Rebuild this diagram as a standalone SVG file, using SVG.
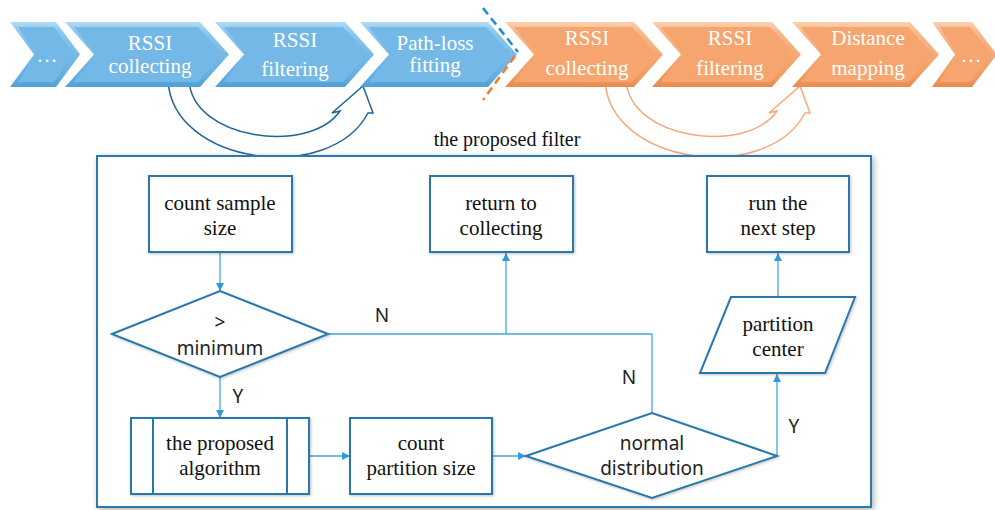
<svg xmlns="http://www.w3.org/2000/svg" width="995" height="510" viewBox="0 0 995 510">
<defs>
<style>
.ct{font-size:21px;fill:#ffffff;text-anchor:middle}
.nt{font-size:21px;fill:#111;text-anchor:middle}
.tt{font-size:20px;fill:#111;text-anchor:middle}
.st{font-size:19px;fill:#222;text-anchor:middle}
.node{fill:#fff;stroke:#2a78aa;stroke-width:2;filter:url(#sh)}
.con{fill:none;stroke:#45a5dc;stroke-width:1.3}
.bchev{fill:url(#bg);}
.bface{fill:#73b8e6}
.ochev{fill:url(#og);}
.oface{fill:#f6a56f}
</style>
<linearGradient id="bg" x1="0" y1="0" x2="0" y2="1">
<stop offset="0" stop-color="#b3dbf4"/><stop offset="0.15" stop-color="#8cc7ee"/><stop offset="0.85" stop-color="#62aee2"/><stop offset="1" stop-color="#4f9fd6"/>
</linearGradient>
<linearGradient id="og" x1="0" y1="0" x2="0" y2="1">
<stop offset="0" stop-color="#fcd0b0"/><stop offset="0.15" stop-color="#f9b88c"/><stop offset="0.85" stop-color="#f29a60"/><stop offset="1" stop-color="#e88a4e"/>
</linearGradient>
<filter id="sh" x="-10%" y="-10%" width="120%" height="120%">
<feGaussianBlur in="SourceAlpha" stdDeviation="1.5"/><feOffset dx="1" dy="1"/>
<feComponentTransfer><feFuncA type="linear" slope="0.25"/></feComponentTransfer>
<feMerge><feMergeNode/><feMergeNode in="SourceGraphic"/></feMerge>
</filter>
<filter id="bsh" x="-5%" y="-5%" width="110%" height="110%">
<feGaussianBlur in="SourceAlpha" stdDeviation="3"/><feOffset dx="2" dy="2"/>
<feComponentTransfer><feFuncA type="linear" slope="0.3"/></feComponentTransfer>
<feMerge><feMergeNode/><feMergeNode in="SourceGraphic"/></feMerge>
</filter>
<marker id="ah" viewBox="0 0 10 10" refX="10" refY="5" markerWidth="8" markerHeight="8" markerUnits="userSpaceOnUse" orient="auto">
<path d="M0,0 L10,5 L0,10 Z" fill="#2f9bdb"/>
</marker>
</defs>
<rect width="995" height="510" fill="#fff"/>

<g id="curved-arrows">
<path id="blue-curve" d="M 189 80 C 192 140, 310 155, 340 111 L 332 113 L 363 86 L 373 113 L 368 113 C 330 185, 172 165, 168 80" fill="#fff" stroke="#1f6494" stroke-width="1.5"/>
<path id="orange-curve" transform="translate(437,0)" d="M 189 80 C 192 140, 310 155, 340 111 L 332 113 L 363 86 L 373 113 L 368 113 C 330 185, 172 165, 168 80" fill="#fff" stroke="#f6a878" stroke-width="1.5"/>
</g>

<g id="chevrons" font-family="Liberation Serif, serif">
<g id="b1"><polygon class="bchev" points="10,22 56,22 80,54.5 56,87 10,87 34,54.5"/><polygon class="bface" points="18,27 54,27 74,54.5 54,82 18,82 36,54.5"/><text class="ct" x="47" y="62">…</text></g>
<g id="b2"><polygon class="bchev" points="65,22 200,22 229,54.5 200,87 65,87 94,54.5"/><polygon class="bface" points="74,27 198,27 223,54.5 198,82 74,82 96,54.5"/><text class="ct" x="150" y="50">RSSI</text><text class="ct" x="150" y="73">collecting</text></g>
<g id="b3"><polygon class="bchev" points="215,22 345,22 374,54.5 345,87 215,87 244,54.5"/><polygon class="bface" points="224,27 343,27 368,54.5 343,82 224,82 246,54.5"/><text class="ct" x="295" y="47">RSSI</text><text class="ct" x="295" y="76">filtering</text></g>
<g id="b4"><polygon class="bchev" points="360,22 488,22 517,54.5 488,87 360,87 389,54.5"/><polygon class="bface" points="369,27 486,27 511,54.5 486,82 369,82 391,54.5"/><text class="ct" x="435" y="50">Path-loss</text><text class="ct" x="435" y="72">fitting</text></g>
<g id="o1"><polygon class="ochev" points="505,22 634,22 663,54.5 634,87 505,87 534,54.5"/><polygon class="oface" points="514,27 632,27 657,54.5 632,82 514,82 536,54.5"/><text class="ct" x="587" y="45">RSSI</text><text class="ct" x="587" y="75">collecting</text></g>
<g id="o2"><polygon class="ochev" points="652,22 772,22 801,54.5 772,87 652,87 681,54.5"/><polygon class="oface" points="661,27 770,27 795,54.5 770,82 661,82 683,54.5"/><text class="ct" x="730" y="45">RSSI</text><text class="ct" x="730" y="75">filtering</text></g>
<g id="o3"><polygon class="ochev" points="792,22 910,22 939,54.5 910,87 792,87 821,54.5"/><polygon class="oface" points="801,27 908,27 933,54.5 908,82 801,82 823,54.5"/><text class="ct" x="868" y="45">Distance</text><text class="ct" x="868" y="75">mapping</text></g>
<g id="o4"><polygon class="ochev" points="932,22 972,22 997,54.5 972,87 932,87 955,54.5"/><polygon class="oface" points="940,27 970,27 992,54.5 970,82 940,82 957,54.5"/><text class="ct" x="971" y="62">…</text></g>
</g>

<g id="separators">
<line x1="483" y1="8" x2="518" y2="52" stroke="#1b8bd2" stroke-width="2.5" stroke-dasharray="8,5"/>
<line x1="515" y1="56" x2="483" y2="100" stroke="#f07a30" stroke-width="2.5" stroke-dasharray="8,5"/>
</g>

<text class="tt" x="507" y="146" font-family="Liberation Serif, serif">the proposed filter</text>

<g id="filter-box"><rect x="97" y="156" width="774" height="351" fill="#fff" stroke="#2a7ab0" stroke-width="2" filter="url(#bsh)"/></g>

<g id="connectors" font-family="Noto Sans, sans-serif">
<line class="con" x1="220" y1="252" x2="220" y2="291" marker-end="url(#ah)"/>
<path class="con" d="M 328 334 H 652 V 413"/>
<line class="con" x1="506" y1="334" x2="506" y2="253" marker-end="url(#ah)"/>
<line class="con" x1="220" y1="377" x2="220" y2="418" marker-end="url(#ah)"/>
<line class="con" x1="309" y1="456" x2="350" y2="456" marker-end="url(#ah)"/>
<line class="con" x1="492" y1="456" x2="526" y2="456" marker-end="url(#ah)"/>
<line class="con" x1="777" y1="456" x2="777" y2="374" marker-end="url(#ah)"/>
<line class="con" x1="778" y1="297" x2="778" y2="253" marker-end="url(#ah)"/>
<text class="st" x="382" y="322">N</text>
<text class="st" x="629" y="384">N</text>
<text class="st" x="238" y="403">Y</text>
<text class="st" x="794" y="433">Y</text>
</g>

<g id="nodes" font-family="Liberation Serif, serif">
<g id="count-sample-size"><rect class="node" x="149" y="176" width="143" height="76"/><text class="nt" x="220" y="210">count sample</text><text class="nt" x="220" y="235">size</text></g>
<g id="return-to-collecting"><rect class="node" x="430" y="176" width="143" height="76"/><text class="nt" x="501" y="210">return to</text><text class="nt" x="501" y="235">collecting</text></g>
<g id="run-next-step"><rect class="node" x="707" y="176" width="142" height="76"/><text class="nt" x="778" y="210">run the</text><text class="nt" x="778" y="235">next step</text></g>
<g id="gt-minimum"><polygon class="node" points="112,334 220,291 328,334 220,377"/><text class="st" x="220" y="329" font-family="Noto Sans, sans-serif">&gt;</text><text class="st" x="220" y="355" font-family="Noto Sans, sans-serif">minimum</text></g>
<g id="proposed-algorithm"><rect class="node" x="131" y="418" width="178" height="76"/><line x1="153" y1="418" x2="153" y2="494" stroke="#2a78aa" stroke-width="2"/><line x1="287" y1="418" x2="287" y2="494" stroke="#2a78aa" stroke-width="2"/><text class="nt" x="220" y="450">the proposed</text><text class="nt" x="220" y="475">algorithm</text></g>
<g id="count-partition-size"><rect class="node" x="350" y="418" width="142" height="76"/><text class="nt" x="421" y="450">count</text><text class="nt" x="421" y="475">partition size</text></g>
<g id="normal-distribution"><polygon class="node" points="526,456 652,413 777,456 652,498"/><text class="st" x="652" y="450" font-family="Noto Sans, sans-serif">normal</text><text class="st" x="652" y="475" font-family="Noto Sans, sans-serif">distribution</text></g>
<g id="partition-center"><polygon class="node" points="731,297 855,297 825,373 700,373"/><text class="nt" x="778" y="331">partition</text><text class="nt" x="778" y="356">center</text></g>
</g>
</svg>
